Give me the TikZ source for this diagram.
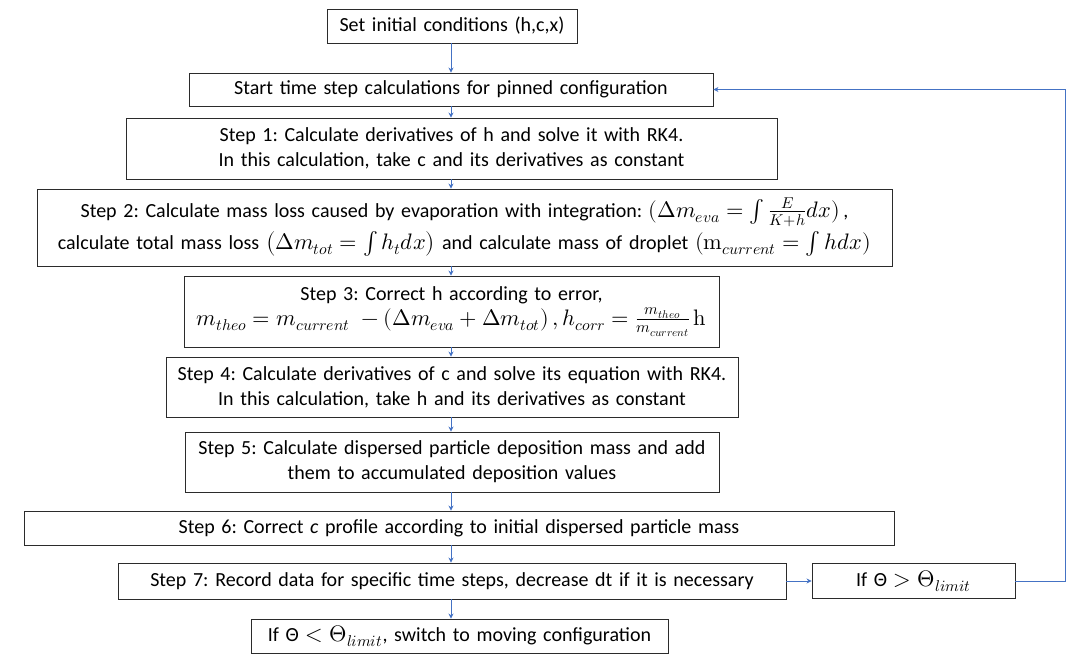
\documentclass[tikz,border=0pt]{standalone}
\usepackage{fontspec}
\usepackage{unicode-math}
\setmainfont{Carlito}
\setmathfont{Latin Modern Math}[Scale=1.12]
\usetikzlibrary{arrows.meta}
\definecolor{arrowblue}{HTML}{4472C4}
\definecolor{boxline}{HTML}{2B2B2B}
\thickmuskip=5mu
\medmuskip=4mu
\frenchspacing
\tikzset{
  box/.style={draw=boxline, line width=0.9pt, inner sep=0pt, align=center,
    font=\frenchspacing\fontsize{20}{25}\selectfont},
  flow/.style={draw=arrowblue, line width=0.8pt, -{Stealth[length=5pt,width=5pt]}},
}
\begin{document}
\begin{tikzpicture}[x=1pt,y=-1pt]
\useasboundingbox (0,0) rectangle (1070,654);
\node[box, text width=250pt, minimum height=34pt] (n0) at (452,26) {Set initial conditions (h,c,x)};
\node[box, text width=524pt, minimum height=33pt] (n1) at (451,89.5) {Start time step calculations for pinned configuration};
\node[box, text width=651pt, minimum height=61pt] (n2) at (451.5,148.5) {Step 1: Calculate derivatives of h and solve it with RK4.\\In this calculation, take c and its derivatives as constant};
\node[box, text width=855pt, minimum height=77pt] (n3) at (464.5,227.5) {Step 2: Calculate mass loss caused by evaporation with integration: $(\Delta m_{eva}=\int\frac{E}{K+h}dx)$\,,\\[3pt]calculate total mass loss $\bigl(\Delta m_{tot}=\int h_t dx\bigr)$ and calculate mass of droplet $(\symup{m}_{current}=\int h dx)$};
\node[box, text width=535pt, minimum height=71pt] (n4) at (451.5,311.5) {Step 3: Correct h according to error,\\$m_{theo}=m_{current}\ -(\Delta m_{eva}+\Delta m_{tot})\,, h_{corr}=\frac{m_{theo}}{m_{current}}\,\symup{h}$};
\node[box, text width=572pt, minimum height=60pt] (n5) at (452,387) {Step 4: Calculate derivatives of c and solve its equation with RK4.\\In this calculation, take h and its derivatives as constant};
\node[box, text width=534pt, minimum height=60pt] (n6) at (452,462) {Step 5: Calculate dispersed particle deposition mass and add\\them to accumulated deposition values};
\node[box, text width=870pt, minimum height=34pt] (n7) at (459,528) {Step 6: Correct \textit{c} profile according to initial dispersed particle mass};
\node[box, text width=668pt, minimum height=36pt] (n8) at (452,581) {Step 7: Record data for specific time steps, decrease dt if it is necessary};
\node[box, text width=203pt, minimum height=35pt] (n9) at (913.5,581) {If Θ $>$ $\Theta_{limit}$};
\node[box, text width=417pt, minimum height=34pt] (n10) at (459.5,636) {If Θ $<$ $\Theta_{limit}$, switch to moving configuration};
\coordinate (c1) at (1065,581);
\coordinate (c2) at (1065,89.5);
\draw[flow] (n0.south -| 451,0) -- (n1.north -| 451,0);
\draw[flow] (n1.south -| 451,0) -- (n2.north -| 451,0);
\draw[flow] (n2.south -| 451,0) -- (n3.north -| 451,0);
\draw[flow] (n3.south -| 451,0) -- (n4.north -| 451,0);
\draw[flow] (n4.south -| 451,0) -- (n5.north -| 451,0);
\draw[flow] (n5.south -| 451,0) -- (n6.north -| 451,0);
\draw[flow] (n6.south -| 451,0) -- (n7.north -| 451,0);
\draw[flow] (n7.south -| 451,0) -- (n8.north -| 451,0);
\draw[flow] (n8.south -| 451,0) -- (n10.north -| 451,0);
\draw[flow] (n8.east) -- (n9.west);
\draw[flow] (n9.east) -- (c1) -- (c2) -- (n1.east |- c2);
\end{tikzpicture}
\end{document}
